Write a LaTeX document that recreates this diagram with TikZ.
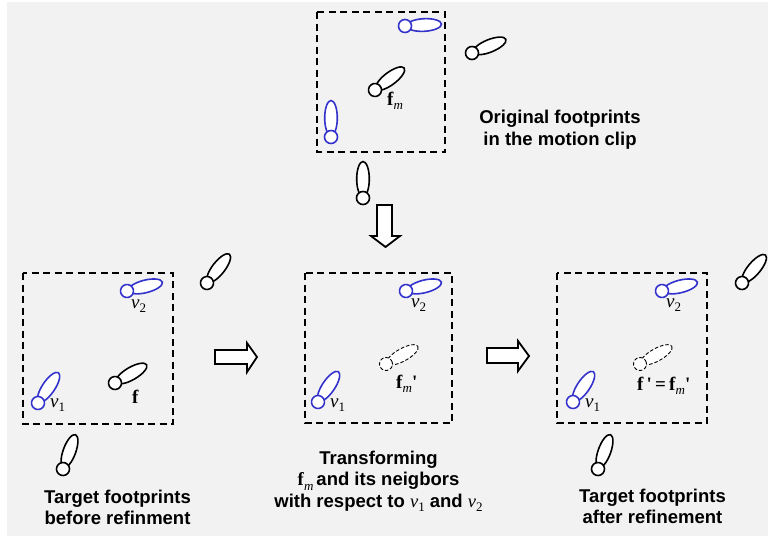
\documentclass[tikz,border=0pt]{standalone}
\usepackage{fontspec}
\setmainfont{Liberation Sans}
\newfontfamily\lserif{Liberation Serif}
\definecolor{fpblue}{RGB}{51,51,204}
\definecolor{bggray}{RGB}{242,242,242}
\newcommand\lsub[1]{\raisebox{-4.5pt}{\fontsize{13}{13}\selectfont #1}}
\tikzset{
  footprint/.pic={
    \draw[fill=white] (19,0) ellipse [x radius=17.5, y radius=6.3];
    \draw[fill=white] (0,0) circle [radius=6.5];
  },
  fpblack/.style={color=black, line width=1.6pt},
  fpblu/.style={color=fpblue, line width=1.6pt},
  fpdash/.style={color=black, line width=0.9pt, dash pattern=on 3.5pt off 2pt},
  dashbox/.style={line width=1.3pt, dash pattern=on 7pt off 4.5pt},
  blockarrow/.style={line width=1.8pt, fill=white, line join=miter},
  caption/.style={font=\fontsize{18.5}{21.5}\selectfont\bfseries, align=center, inner sep=0pt, anchor=north},
  lbl/.style={font=\lserif\fontsize{19}{22}\selectfont, inner sep=0pt, anchor=base west}
}
\begin{document}
\begin{tikzpicture}[x=1pt, y=-1pt]
\useasboundingbox (0,0) rectangle (768,538);
\fill[bggray] (7,2) rectangle (768,536);

% ---------- top panel ----------
\draw[dashbox] (317,12) rectangle (445,152);
\pic[fpblu, rotate=3] at (405,26) {footprint};
\pic[fpblack, rotate=22] at (472,53) {footprint};
\pic[fpblack, rotate=37] at (375,90) {footprint};
\pic[fpblu, rotate=90] at (331,137) {footprint};
\pic[fpblack, rotate=90] at (363,198) {footprint};
\node[lbl] (fm) at (387,105) {\textbf{f}\lsub{\textit{m}}};
\node[caption] (orig) at (560,110) {Original footprints\\in the motion clip};
\draw[blockarrow] (377,205) -- (392,205) -- (392,236) -- (400,236) -- (385.5,247) -- (371,236) -- (377,236) -- cycle;

% ---------- left panel ----------
\draw[dashbox] (23,273) rectangle (173,424);
\pic[fpblu, rotate=14] at (127,291) {footprint};
\pic[fpblu, rotate=56] at (38,403) {footprint};
\pic[fpblack, rotate=30] at (115,383) {footprint};
\pic[fpblack, rotate=52] at (207,283) {footprint};
\pic[fpblack, rotate=70] at (63,469) {footprint};
\node[lbl] (lv2) at (131,308) {\textit{v}\lsub{2}};
\node[lbl] (lv1) at (50,407) {\textit{v}\lsub{1}};
\node[lbl] (lf) at (132,403) {\textbf{f}};
\node[caption] (before) at (117.5,489.5) {Target footprints\\before refinment};
\draw[blockarrow] (215,350) -- (247,350) -- (247,343) -- (257,357) -- (247,372) -- (247,364) -- (215,364) -- cycle;

% ---------- middle panel ----------
\draw[dashbox] (305,273) rectangle (452,423);
\pic[fpblu, rotate=14] at (406,291) {footprint};
\pic[fpblu, rotate=56] at (318,402) {footprint};
\pic[fpdash, rotate=29] at (386,364) {footprint};
\node[lbl] (mv2) at (411,307) {\textit{v}\lsub{2}};
\node[lbl] (mv1) at (330,407) {\textit{v}\lsub{1}};
\node[lbl] (mfm) at (396,388) {\textbf{f}\lsub{\textit{m}}\textbf{'}};
\node[caption] (transf) at (378.5,450.5) {Transforming\\{\lserif\textbf{f}\lsub{\mdseries\textit{m}}}\,and its neigbors\\with respect to {\lserif\mdseries\textit{v}\lsub{1}} and {\lserif\mdseries\textit{v}\lsub{2}}};
\draw[blockarrow] (487,348) -- (518,348) -- (518,341) -- (529,356) -- (518,371) -- (518,363) -- (487,363) -- cycle;

% ---------- right panel ----------
\draw[dashbox] (557,273) rectangle (707,423);
\pic[fpblu, rotate=14] at (662,291) {footprint};
\pic[fpblu, rotate=56] at (573,402) {footprint};
\pic[fpdash, rotate=29] at (640,364) {footprint};
\pic[fpblack, rotate=50] at (742,283) {footprint};
\pic[fpblack, rotate=70] at (598,469) {footprint};
\node[lbl] (rv2) at (666,307) {\textit{v}\lsub{2}};
\node[lbl] (rv1) at (585,407) {\textit{v}\lsub{1}};
\node[lbl] (rf) at (637,390) {\textbf{f\,'\,=\,f}\lsub{\textit{m}}\textbf{'}};
\node[caption] (after) at (652.5,488.5) {Target footprints\\after refinement};
\end{tikzpicture}
\end{document}
